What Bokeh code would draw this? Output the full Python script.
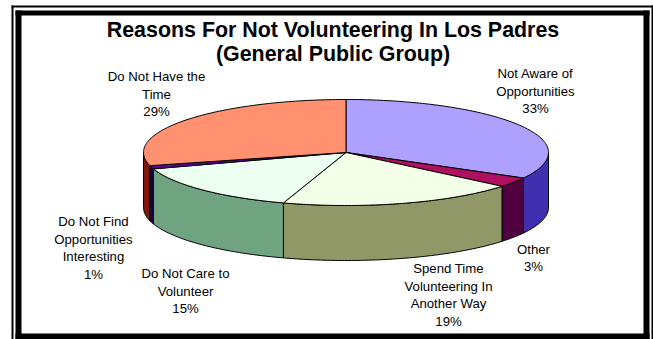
import numpy as np
from bokeh.core.properties import value
from bokeh.embed import file_html
from bokeh.plotting import figure
from bokeh.resources import INLINE

# Chart content
title_lines = ["Reasons For Not Volunteering In Los Padres", "(General Public Group)"]
categories = [
    "Not Aware of Opportunities",
    "Other",
    "Spend Time Volunteering In Another Way",
    "Do Not Care to Volunteer",
    "Do Not Find Opportunities Interesting",
    "Do Not Have the Time",
]
percentages = [33, 3, 19, 15, 1, 29]
label_lines = [
    ["Not Aware of", "Opportunities"],
    ["Other"],
    ["Spend Time", "Volunteering In", "Another Way"],
    ["Do Not Care to", "Volunteer"],
    ["Do Not Find", "Opportunities", "Interesting"],
    ["Do Not Have the", "Time"],
]

# Appearance
top_colors = ["#AEA0FF", "#B01060", "#F4FFE8", "#ECFFF0", "#6000A0", "#FF9070"]
side_colors = ["#4030B0", "#500040", "#909868", "#70A480", "#200050", "#801810"]
label_anchor_x = [535, 533, 448, 185, 93, 156]
label_first_y = [73, 248.5, 268, 273, 221, 76]
CX, CY, RX, RY, DEPTH = 345.5, 152, 202.5, 53, 55
FONT = "Liberation Sans"

p = figure(
    width=653, height=339, x_range=(0, 653), y_range=(339, 0),
    toolbar_location=None, output_backend="svg", min_border=0,
    outline_line_color=None, background_fill_color="white",
)
p.axis.visible = False
p.grid.visible = False

# Double frame around the chart
outer = dict(fill_color="black", line_color=None)
for l, r, t, b in [
    (11, 13, 5, 339), (651, 653, 5, 339), (11, 653, 5, 7),
    (15, 21, 10, 339), (643, 649, 10, 339), (15, 649, 10, 15), (15, 649, 333, 339),
]:
    p.quad(left=l, right=r, top=t, bottom=b, **outer)


def arc(a0, a1, drop=0.0):
    """Rim points between two clockwise-from-north angles, in radians."""
    n = max(2, int(abs(a1 - a0) * 60))
    t = np.linspace(a0, a1, n)
    return CX + RX * np.sin(t), CY - RY * np.cos(t) + drop


fractions = np.array(percentages) / sum(percentages)
ends = np.cumsum(fractions) * 2 * np.pi
starts = ends - fractions * 2 * np.pi
edge = dict(line_color="black", line_width=1)

# Outer wall, only where the rim faces the viewer
for a0, a1, colour in zip(starts, ends, side_colors):
    lo, hi = max(a0, np.pi / 2), min(a1, 3 * np.pi / 2)
    if lo < hi:
        xt, yt = arc(lo, hi)
        xb, yb = arc(hi, lo, DEPTH)
        p.patch(np.r_[xt, xb], np.r_[yt, yb], fill_color=colour, **edge)

# Top face
for a0, a1, colour in zip(starts, ends, top_colors):
    xt, yt = arc(a0, a1)
    p.patch(np.r_[CX, xt], np.r_[CY, yt], fill_color=colour, **edge)

# Title
p.text(
    x=[332.5] * 2, y=[29.5, 53], text=title_lines,
    text_font=value(FONT), text_font_style="bold", text_font_size="21.4px",
    text_align="center", text_baseline="middle", text_color="black",
)

# Category labels with their percentages
LINE_STEP = 17.7
xs, ys, texts = [], [], []
for lines, pct, x0, y0 in zip(label_lines, percentages, label_anchor_x, label_first_y):
    for i, line in enumerate(lines + [f"{pct}%"]):
        xs.append(x0)
        ys.append(y0 + i * LINE_STEP)
        texts.append(line)
p.text(
    x=xs, y=ys, text=texts,
    text_font=value(FONT), text_font_size="13.2px",
    text_align="center", text_baseline="middle", text_color="black",
)

with open("out.html", "w") as f:
    f.write(file_html(p, INLINE))
